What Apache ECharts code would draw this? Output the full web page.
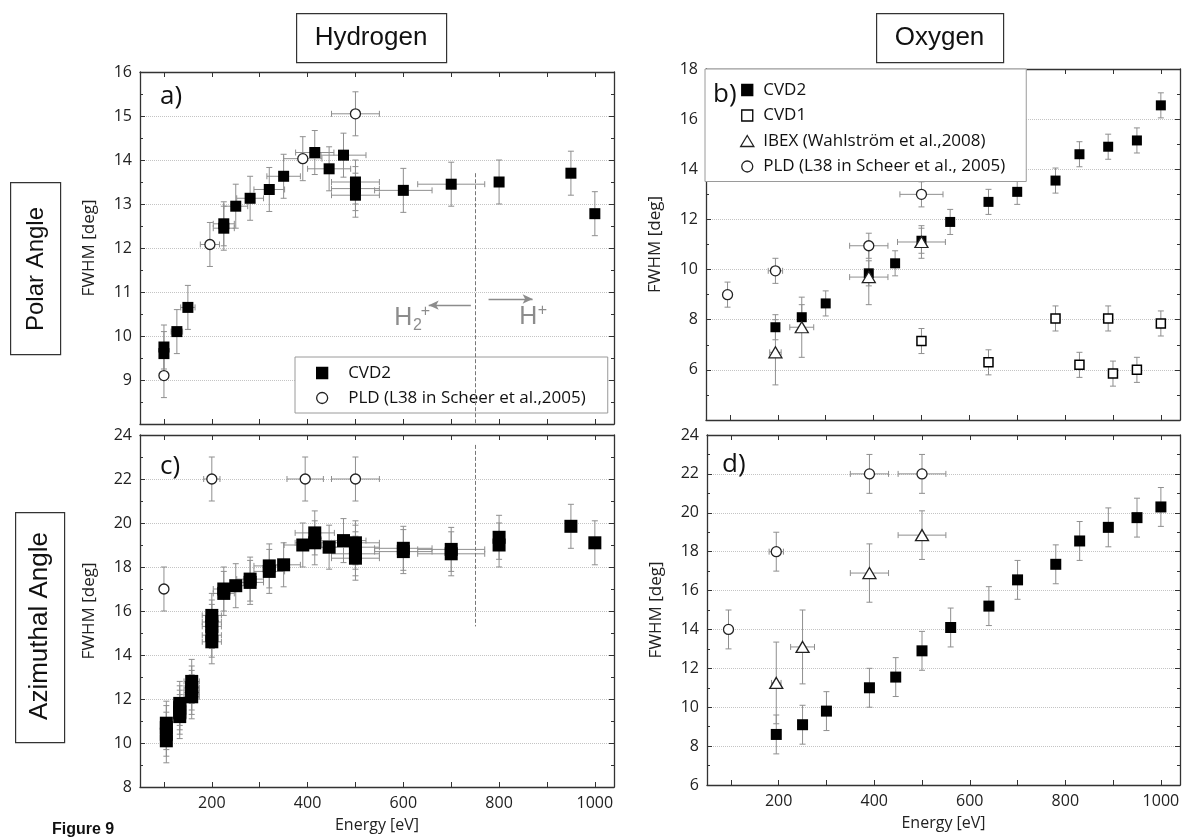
<!DOCTYPE html>
<html>
<head>
<meta charset="utf-8">
<script src="https://cdn.jsdelivr.net/npm/echarts@6/dist/echarts.min.js"></script>
<style>
  html, body { margin: 0; padding: 0; background: #fff; }
  #chart { width: 1183px; height: 839px; }
</style>
</head>
<body>
<div id="chart"></div>
<script>
// ---------------- data: FWHM [deg] versus energy [eV] ----------------
// E = energy, W = FWHM, DE = energy uncertainty (half width), DW = FWHM uncertainty

// a) Hydrogen, polar angle
const H_POLAR_CVD2_E  = [100, 100, 127, 150, 225, 225, 250, 280, 320, 350, 415, 445, 475, 500, 500, 500, 600, 700, 800, 950, 1000];
const H_POLAR_CVD2_W  = [9.6, 9.75, 10.1, 10.65, 12.45, 12.55, 12.95, 13.13, 13.33, 13.63, 14.17, 13.8, 14.11, 13.2, 13.35, 13.5, 13.31, 13.45, 13.5, 13.7, 12.78];
const H_POLAR_CVD2_DE = [8, 8, 12, 15, 22, 22, 25, 28, 32, 35, 40, 45, 47, 50, 50, 50, 60, 70, 0, 0, 0];
const H_POLAR_CVD2_DW = [0.5, 0.5, 0.5, 0.5, 0.5, 0.5, 0.5, 0.5, 0.5, 0.5, 0.5, 0.5, 0.5, 0.5, 0.5, 0.5, 0.5, 0.5, 0.5, 0.5, 0.5];
const H_POLAR_PLD_E   = [100, 196, 390, 500];
const H_POLAR_PLD_W   = [9.1, 12.08, 14.03, 15.05];
const H_POLAR_PLD_DE  = [0, 20, 40, 50];
const H_POLAR_PLD_DW  = [0.5, 0.5, 0.5, 0.5];

// b) Oxygen, polar angle
const O_POLAR_CVD2_E  = [195, 250, 300, 390, 445, 500, 560, 640, 700, 780, 830, 890, 950, 1000];
const O_POLAR_CVD2_W  = [7.7, 8.1, 8.65, 9.85, 10.25, 11.15, 11.9, 12.7, 13.1, 13.55, 14.6, 14.9, 15.15, 16.55];
const O_POLAR_CVD2_DW = [0.5, 0.5, 0.5, 0.5, 0.5, 0.5, 0.5, 0.5, 0.5, 0.5, 0.5, 0.5, 0.5, 0.5];
const O_POLAR_CVD1_E  = [500, 640, 780, 830, 890, 900, 950, 1000];
const O_POLAR_CVD1_W  = [7.15, 6.3, 8.05, 6.2, 8.05, 5.85, 6.0, 7.85];
const O_POLAR_CVD1_DW = [0.5, 0.5, 0.5, 0.5, 0.5, 0.5, 0.5, 0.5];
const O_POLAR_IBEX_E  = [195, 250, 390, 500];
const O_POLAR_IBEX_W  = [6.7, 7.7, 9.7, 11.1];
const O_POLAR_IBEX_DE = [12, 25, 40, 50];
const O_POLAR_IBEX_DW = [1.3, 1.2, 1.1, 0.65];
const O_POLAR_PLD_E   = [95, 195, 390, 500];
const O_POLAR_PLD_W   = [9.0, 9.95, 10.95, 13.0];
const O_POLAR_PLD_DE  = [0, 15, 40, 45];
const O_POLAR_PLD_DW  = [0.5, 0.5, 0.5, 0.5];

// c) Hydrogen, azimuthal angle
const H_AZIM_CVD2_E  = [105, 105, 105, 105, 133, 133, 133, 133, 158, 158, 158, 158, 200, 200, 200, 200, 200, 225, 225, 250, 280, 280, 320, 320, 350, 390, 415, 415, 445, 475, 500, 500, 500, 500, 600, 600, 700, 700, 800, 800, 950, 1000];
const H_AZIM_CVD2_W  = [10.1, 10.4, 10.7, 10.9, 11.2, 11.4, 11.6, 11.8, 12.1, 12.3, 12.5, 12.8, 14.6, 14.9, 15.3, 15.5, 15.8, 16.8, 17.0, 17.15, 17.3, 17.45, 17.8, 18.05, 18.1, 19.0, 19.1, 19.55, 18.9, 19.2, 18.4, 18.6, 18.9, 19.1, 18.7, 18.85, 18.6, 18.8, 19.0, 19.35, 19.85, 19.1];
const H_AZIM_CVD2_DE = [10, 10, 10, 10, 13, 13, 13, 13, 16, 16, 16, 16, 20, 20, 20, 20, 20, 22, 22, 25, 28, 28, 32, 32, 35, 39, 41, 41, 45, 47, 50, 50, 50, 50, 60, 60, 70, 70, 0, 0, 0, 0];
const H_AZIM_CVD2_DW = [1, 1, 1, 1, 1, 1, 1, 1, 1, 1, 1, 1, 1, 1, 1, 1, 1, 1, 1, 1, 1, 1, 1, 1, 1, 1, 1, 1, 1, 1, 1, 1, 1, 1, 1, 1, 1, 1, 1, 1, 1, 1];
const H_AZIM_PLD_E   = [100, 200, 395, 500];
const H_AZIM_PLD_W   = [17, 22, 22, 22];
const H_AZIM_PLD_DE  = [0, 17, 38, 50];
const H_AZIM_PLD_DW  = [1, 1, 1, 1];

// d) Oxygen, azimuthal angle
const O_AZIM_CVD2_E  = [195, 250, 300, 390, 445, 500, 560, 640, 700, 780, 830, 890, 950, 1000];
const O_AZIM_CVD2_W  = [8.6, 9.1, 9.8, 11.0, 11.55, 12.9, 14.1, 15.2, 16.55, 17.35, 18.55, 19.25, 19.75, 20.3];
const O_AZIM_CVD2_DW = [1, 1, 1, 1, 1, 1, 1, 1, 1, 1, 1, 1, 1, 1];
const O_AZIM_IBEX_E  = [195, 250, 390, 500];
const O_AZIM_IBEX_W  = [11.25, 13.1, 16.9, 18.85];
const O_AZIM_IBEX_DE = [10, 25, 40, 50];
const O_AZIM_IBEX_DW = [2.1, 1.9, 1.5, 1.25];
const O_AZIM_PLD_E   = [95, 195, 390, 500];
const O_AZIM_PLD_W   = [14.0, 18.0, 22.0, 22.0];
const O_AZIM_PLD_DE  = [0, 15, 40, 50];
const O_AZIM_PLD_DW  = [1, 1, 1, 1];

// axis ticks
const ENERGY_TICKS  = [100, 200, 300, 400, 500, 600, 700, 800, 900, 1000];
const ENERGY_LABELS = [200, 400, 600, 800, 1000];

// legend / series names
const NAME_CVD2 = 'CVD2';
const NAME_CVD1 = 'CVD1';
const NAME_IBEX = 'IBEX (Wahlström et al.,2008)';
const NAME_PLD_H = 'PLD (L38 in Scheer et al.,2005)';
const NAME_PLD_O = 'PLD (L38 in Scheer et al., 2005)';

// ---------------- helpers ----------------
function rows(E, W, DE, DW) {
  return E.map((e, i) => [e, W[i], DE ? DE[i] : 0, DW[i]]);
}

const AXIS_COLOR = '#333';
const ERR_COLOR = '#8f8f8f';
const FONT = '"Open Sans", "DejaVu Sans", sans-serif';
const ARIAL = '"Liberation Sans", Arial, sans-serif';

// legend icons (fixed aspect)
const ICON_SQUARE = 'path://M0,0H10V10H0Z';
const ICON_TRIANGLE = 'path://M6,0L12,10H0Z';
const ICON_CIRCLE = 'circle';

const GRIDS = [
  { left: 140, top: 72, width: 474, height: 352 },  // a
  { left: 706, top: 69, width: 474, height: 351 },  // b
  { left: 140, top: 435, width: 474, height: 352 }, // c
  { left: 707, top: 435, width: 473, height: 350 }  // d
];
const Y_RANGES = [
  { min: 8, max: 16, interval: 1, hideMin: true },
  { min: 4, max: 18, interval: 2, hideMin: true },
  { min: 8, max: 24, interval: 2, hideMin: false },
  { min: 6, max: 24, interval: 2, hideMin: false }
];

function xAxis(gi, position, labels) {
  return {
    type: 'value', gridIndex: gi, position: position,
    min: 50, max: 1040,
    name: labels ? 'Energy [eV]' : '',
    nameLocation: 'middle', nameGap: 30,
    nameTextStyle: { fontFamily: FONT, fontSize: 16, color: '#222' },
    axisLine: { show: true, onZero: false, lineStyle: { color: AXIS_COLOR, width: 1.3 } },
    axisTick: { show: true, inside: true, length: 5, customValues: ENERGY_TICKS, lineStyle: { color: AXIS_COLOR } },
    axisLabel: { show: labels, customValues: ENERGY_LABELS, formatter: v => String(v), margin: 8, fontFamily: FONT, fontSize: 16, color: '#222' },
    splitLine: { show: false },
    minorTick: { show: false }
  };
}

function yAxis(gi, position, labels) {
  const r = Y_RANGES[gi];
  return {
    type: 'value', gridIndex: gi, position: position,
    min: r.min, max: r.max, interval: r.interval,
    name: labels ? 'FWHM [deg]' : '',
    nameLocation: 'middle', nameGap: 42,
    nameTextStyle: { fontFamily: FONT, fontSize: 17, color: '#222' },
    axisLine: { show: true, onZero: false, lineStyle: { color: AXIS_COLOR, width: 1.3 } },
    axisTick: { show: true, inside: true, length: 5, lineStyle: { color: AXIS_COLOR } },
    minorTick: { show: true, splitNumber: 2, length: 3, lineStyle: { color: AXIS_COLOR } },
    axisLabel: { show: labels, showMinLabel: !r.hideMin, formatter: v => String(v), margin: 8, fontFamily: FONT, fontSize: 16, color: '#222' },
    splitLine: { show: labels, lineStyle: { type: 'dotted', color: '#c4c4c4', width: 1 } }
  };
}

// error bars drawn through the axes' own scale
function renderErr(params, api) {
  const x = api.value(0), y = api.value(1), dx = api.value(2), dy = api.value(3);
  const c = api.coord([x, y]);
  const style = { stroke: ERR_COLOR, lineWidth: 1, fill: null };
  const cap = 3;
  const children = [];
  if (dy > 0) {
    const t = api.coord([x, y + dy]), b = api.coord([x, y - dy]);
    children.push({ type: 'line', shape: { x1: c[0], y1: t[1], x2: c[0], y2: b[1] }, style });
    children.push({ type: 'line', shape: { x1: c[0] - cap, y1: t[1], x2: c[0] + cap, y2: t[1] }, style });
    children.push({ type: 'line', shape: { x1: c[0] - cap, y1: b[1], x2: c[0] + cap, y2: b[1] }, style });
  }
  if (dx > 0) {
    const l = api.coord([x - dx, y]), r = api.coord([x + dx, y]);
    children.push({ type: 'line', shape: { x1: l[0], y1: c[1], x2: r[0], y2: c[1] }, style });
    children.push({ type: 'line', shape: { x1: l[0], y1: c[1] - cap, x2: l[0], y2: c[1] + cap }, style });
    children.push({ type: 'line', shape: { x1: r[0], y1: c[1] - cap, x2: r[0], y2: c[1] + cap }, style });
  }
  return { type: 'group', children };
}

function errSeries(gi, data) {
  return {
    type: 'custom', name: 'err', xAxisIndex: gi, yAxisIndex: gi,
    renderItem: renderErr, data: data, encode: { x: 0, y: 1 },
    silent: true, z: 2, clip: true
  };
}

const STYLES = {
  cvd2: (size) => ({ symbol: 'rect', symbolSize: size, itemStyle: { color: '#000', borderColor: '#000', borderWidth: 0, opacity: 1 } }),
  cvd1: () => ({ symbol: 'rect', symbolSize: 9, itemStyle: { color: '#fff', borderColor: '#000', borderWidth: 1.5, opacity: 1 } }),
  ibex: () => ({ symbol: 'triangle', symbolSize: [13, 11], itemStyle: { color: '#fff', borderColor: '#222', borderWidth: 1.3, opacity: 1 } }),
  pld:  () => ({ symbol: 'circle', symbolSize: 10, itemStyle: { color: '#fff', borderColor: '#222', borderWidth: 1.3, opacity: 1 } })
};

function markSeries(gi, name, data, style, extra) {
  return Object.assign({
    type: 'scatter', name: name, xAxisIndex: gi, yAxisIndex: gi,
    data: data.map(d => [d[0], d[1]]), z: 3, silent: true
  }, style, extra || {});
}

// ---------------- data rows ----------------
const aCvd2 = rows(H_POLAR_CVD2_E, H_POLAR_CVD2_W, H_POLAR_CVD2_DE, H_POLAR_CVD2_DW);
const aPld  = rows(H_POLAR_PLD_E, H_POLAR_PLD_W, H_POLAR_PLD_DE, H_POLAR_PLD_DW);
const bCvd2 = rows(O_POLAR_CVD2_E, O_POLAR_CVD2_W, null, O_POLAR_CVD2_DW);
const bCvd1 = rows(O_POLAR_CVD1_E, O_POLAR_CVD1_W, null, O_POLAR_CVD1_DW);
const bIbex = rows(O_POLAR_IBEX_E, O_POLAR_IBEX_W, O_POLAR_IBEX_DE, O_POLAR_IBEX_DW);
const bPld  = rows(O_POLAR_PLD_E, O_POLAR_PLD_W, O_POLAR_PLD_DE, O_POLAR_PLD_DW);
const cCvd2 = rows(H_AZIM_CVD2_E, H_AZIM_CVD2_W, H_AZIM_CVD2_DE, H_AZIM_CVD2_DW);
const cPld  = rows(H_AZIM_PLD_E, H_AZIM_PLD_W, H_AZIM_PLD_DE, H_AZIM_PLD_DW);
const dCvd2 = rows(O_AZIM_CVD2_E, O_AZIM_CVD2_W, null, O_AZIM_CVD2_DW);
const dIbex = rows(O_AZIM_IBEX_E, O_AZIM_IBEX_W, O_AZIM_IBEX_DE, O_AZIM_IBEX_DW);
const dPld  = rows(O_AZIM_PLD_E, O_AZIM_PLD_W, O_AZIM_PLD_DE, O_AZIM_PLD_DW);

// H2+ / H+ boundary and direction arrows (energy, FWHM)
const BOUNDARY_E = 750;
const GUIDE_GREY = '#8c8c8c';
const H2_LABEL_AT = [600, 10.41];  // centre of the "H" of H2+
const H_LABEL_AT = [861, 10.42];   // centre of the "H" of H+

const polarGuides = {
  markLine: {
    silent: true, animation: false, label: { show: false },
    data: [
      [{ coord: [BOUNDARY_E, 13.7], symbol: 'none', lineStyle: { type: 'dashed', color: '#777', width: 1 } },
       { coord: [BOUNDARY_E, 8], symbol: 'none' }],
      [{ coord: [741, 10.7], symbol: 'none', lineStyle: { type: 'solid', color: GUIDE_GREY, width: 1.3 } },
       { coord: [653, 10.7], symbol: 'arrow', symbolSize: [7, 10] }],
      [{ coord: [778, 10.84], symbol: 'none', lineStyle: { type: 'solid', color: GUIDE_GREY, width: 1.3 } },
       { coord: [870, 10.84], symbol: 'arrow', symbolSize: [7, 10] }]
    ]
  }
};

const azimGuides = {
  markLine: {
    silent: true, animation: false, label: { show: false },
    data: [
      [{ coord: [BOUNDARY_E, 23.55], symbol: 'none', lineStyle: { type: 'dashed', color: '#777', width: 1 } },
       { coord: [BOUNDARY_E, 15.3], symbol: 'none' }]
    ]
  }
};

// ---------------- option ----------------
const xAxes = [0, 1, 2, 3].map(gi => xAxis(gi, 'bottom', gi >= 2))
  .concat([0, 1, 2, 3].map(gi => xAxis(gi, 'top', false)));
const yAxes = [0, 1, 2, 3].map(gi => yAxis(gi, 'left', true))
  .concat([0, 1, 2, 3].map(gi => yAxis(gi, 'right', false)));

const series = [
  // a
  errSeries(0, aCvd2), errSeries(0, aPld),
  markSeries(0, NAME_CVD2, aCvd2, STYLES.cvd2(11), polarGuides),
  markSeries(0, NAME_PLD_H, aPld, STYLES.pld()),
  // b
  errSeries(1, bCvd2), errSeries(1, bCvd1), errSeries(1, bIbex), errSeries(1, bPld),
  markSeries(1, NAME_CVD2, bCvd2, STYLES.cvd2(10)),
  markSeries(1, NAME_CVD1, bCvd1, STYLES.cvd1()),
  markSeries(1, NAME_IBEX, bIbex, STYLES.ibex()),
  markSeries(1, NAME_PLD_O, bPld, STYLES.pld()),
  // c
  errSeries(2, cCvd2), errSeries(2, cPld),
  markSeries(2, NAME_CVD2, cCvd2, STYLES.cvd2(13), azimGuides),
  markSeries(2, NAME_PLD_H, cPld, STYLES.pld()),
  // d
  errSeries(3, dCvd2), errSeries(3, dIbex), errSeries(3, dPld),
  markSeries(3, NAME_CVD2, dCvd2, STYLES.cvd2(11)),
  markSeries(3, NAME_IBEX, dIbex, STYLES.ibex()),
  markSeries(3, NAME_PLD_O, dPld, STYLES.pld())
];

const legendText = { fontFamily: FONT, fontSize: 17, color: '#111', lineHeight: 17 };

const boxes = [
  // column headings
  { type: 'rect', left: 296, top: 13, shape: { width: 150, height: 49 }, style: { fill: '#fff', stroke: '#333', lineWidth: 1.2 }, z: 50 },
  { type: 'text', x: 371, y: 38, style: { text: 'Hydrogen', font: '26px ' + ARIAL, fill: '#111', textAlign: 'center', textVerticalAlign: 'middle' }, z: 51 },
  { type: 'rect', left: 876, top: 13, shape: { width: 127, height: 49 }, style: { fill: '#fff', stroke: '#333', lineWidth: 1.2 }, z: 50 },
  { type: 'text', x: 939.5, y: 38, style: { text: 'Oxygen', font: '26px ' + ARIAL, fill: '#111', textAlign: 'center', textVerticalAlign: 'middle' }, z: 51 },
  // row headings
  { type: 'rect', left: 10, top: 182, shape: { width: 50, height: 172 }, style: { fill: '#fff', stroke: '#333', lineWidth: 1.2 }, z: 50 },
  { type: 'text', x: 36, y: 269, rotation: Math.PI / 2, style: { text: 'Polar Angle', font: '24px ' + ARIAL, fill: '#111', textAlign: 'center', textVerticalAlign: 'middle' }, z: 51 },
  { type: 'rect', left: 15, top: 512, shape: { width: 49, height: 230 }, style: { fill: '#fff', stroke: '#333', lineWidth: 1.2 }, z: 50 },
  { type: 'text', x: 40, y: 626, rotation: Math.PI / 2, style: { text: 'Azimuthal Angle', font: '26px ' + ARIAL, fill: '#111', textAlign: 'center', textVerticalAlign: 'middle' }, z: 51 },
  // panel letters
  { type: 'text', x: 160, y: 97, style: { text: 'a)', font: '26px ' + FONT, fill: '#111', textVerticalAlign: 'middle' }, z: 60 },
  { type: 'text', x: 713, y: 95, style: { text: 'b)', font: '26px ' + FONT, fill: '#111', textVerticalAlign: 'middle' }, z: 60 },
  { type: 'text', x: 160, y: 467, style: { text: 'c)', font: '26px ' + FONT, fill: '#111', textVerticalAlign: 'middle' }, z: 60 },
  { type: 'text', x: 722, y: 465, style: { text: 'd)', font: '26px ' + FONT, fill: '#111', textVerticalAlign: 'middle' }, z: 60 },
  // caption
  { type: 'text', x: 52, y: 830, style: { text: 'Figure 9', font: 'bold 16px ' + ARIAL, fill: '#111', textVerticalAlign: 'middle' }, z: 60 }
];

const option = {
  backgroundColor: '#fff',
  animation: false,
  grid: GRIDS.map(g => Object.assign({ containLabel: false }, g)),
  xAxis: xAxes,
  yAxis: yAxes,
  legend: [
    {
      orient: 'vertical', left: 295, top: 357,
      padding: [7.5, 22, 6.5, 21], itemWidth: 42, itemHeight: 11, itemGap: 8,
      backgroundColor: '#fff', borderColor: '#9a9a9a', borderWidth: 1,
      selectedMode: false, textStyle: legendText, symbolKeepAspect: true,
      itemStyle: { borderWidth: 1.3 },
      data: [{ name: NAME_CVD2, icon: ICON_SQUARE }, { name: NAME_PLD_H, icon: ICON_CIRCLE }]
    },
    {
      orient: 'vertical', left: 705, top: 69,
      padding: [12.5, 21, 6.5, 35], itemWidth: 22, itemHeight: 11, itemGap: 8.5,
      backgroundColor: '#fff', borderColor: '#9a9a9a', borderWidth: 1,
      selectedMode: false, textStyle: legendText, symbolKeepAspect: true,
      itemStyle: { borderWidth: 1.3 },
      data: [
        { name: NAME_CVD2, icon: ICON_SQUARE },
        { name: NAME_CVD1, icon: ICON_SQUARE },
        { name: NAME_IBEX, icon: ICON_TRIANGLE },
        { name: NAME_PLD_O, icon: ICON_CIRCLE }
      ]
    }
  ],
  series: series,
  graphic: boxes
};

const chart = echarts.init(document.getElementById('chart'), null, { renderer: 'canvas', width: 1183, height: 839 });
chart.setOption(option);

// ion labels placed at their energy/FWHM positions in panel a
const p2 = chart.convertToPixel({ gridIndex: 0 }, H2_LABEL_AT);
const p1 = chart.convertToPixel({ gridIndex: 0 }, H_LABEL_AT);
const ionFont = (s) => s + 'px ' + ARIAL;
const ionText = (x, y, t, size) => ({
  type: 'text', x: x, y: y, z: 60,
  style: { text: t, font: ionFont(size), fill: GUIDE_GREY, textAlign: 'center', textVerticalAlign: 'middle' }
});
chart.setOption({
  graphic: boxes.concat([
    ionText(p2[0], p2[1], 'H', 25),
    ionText(p2[0] + 14, p2[1] + 8, '2', 16),
    ionText(p2[0] + 22, p2[1] - 6, '+', 16),
    ionText(p1[0], p1[1], 'H', 25),
    ionText(p1[0] + 14, p1[1] - 6.5, '+', 16)
  ])
});
</script>
</body>
</html>
